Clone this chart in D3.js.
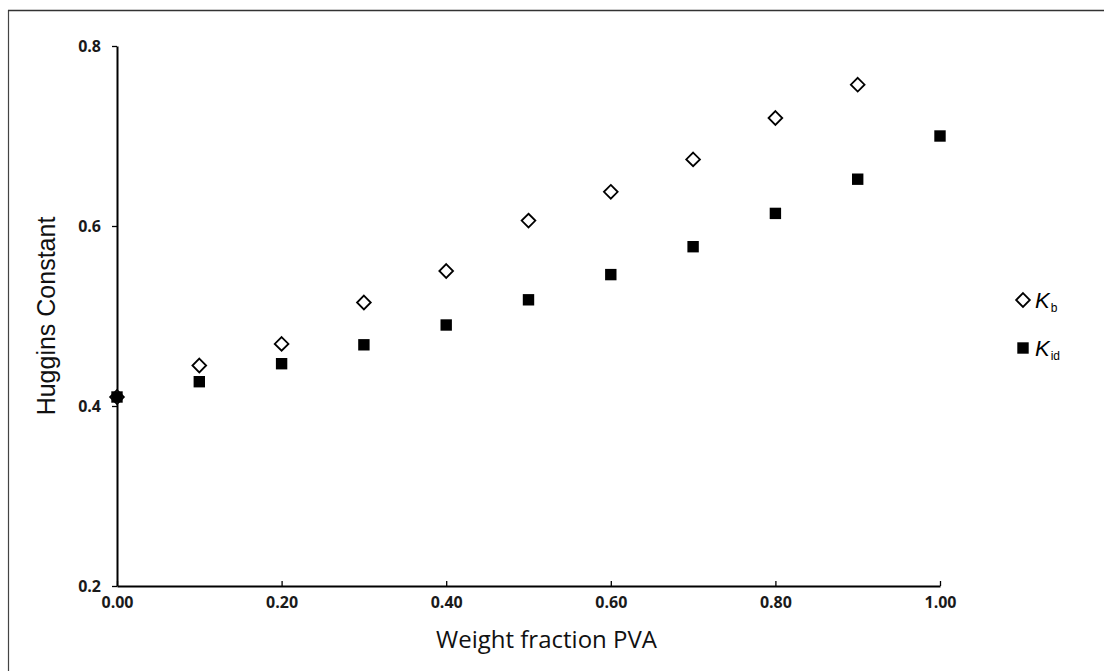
<!DOCTYPE html>
<html>
<head>
<meta charset="utf-8">
<script src="https://cdn.jsdelivr.net/npm/d3@7"></script>
<style>
  body { margin: 0; background: #fff; }
  svg { display: block; }
</style>
</head>
<body>
<div class="chart"></div>
<script>
// data
const FRACTIONS_KB = [0.0, 0.1, 0.2, 0.3, 0.4, 0.5, 0.6, 0.7, 0.8, 0.9];
const KB_VALUES = [0.410, 0.445, 0.469, 0.515, 0.550, 0.606, 0.638, 0.674, 0.720, 0.757];
const FRACTIONS_KID = [0.0, 0.1, 0.2, 0.3, 0.4, 0.5, 0.6, 0.7, 0.8, 0.9, 1.0];
const KID_VALUES = [0.410, 0.427, 0.447, 0.468, 0.490, 0.518, 0.546, 0.577, 0.614, 0.652, 0.700];
const X_TICKS = [0, 0.2, 0.4, 0.6, 0.8, 1.0];
const Y_TICKS = [0.2, 0.4, 0.6, 0.8];

const WIDTH = 1104;
const HEIGHT = 671;
const margin = { left: 117, right: 164, top: 46, bottom: 85 };

const svg = d3.select(".chart")
  .append("svg")
  .attr("width", WIDTH)
  .attr("height", HEIGHT);

// frame of the scanned figure (left and top edges)
svg.append("line").attr("x1", 8.5).attr("x2", 8.5).attr("y1", 10).attr("y2", HEIGHT)
  .attr("stroke", "#444").attr("stroke-width", 1.2);
svg.append("line").attr("x1", 8).attr("x2", WIDTH).attr("y1", 10.5).attr("y2", 10.5)
  .attr("stroke", "#333").attr("stroke-width", 1.5);

const x = d3.scaleLinear().domain([0, 1]).range([margin.left, WIDTH - margin.right]);
const y = d3.scaleLinear().domain([0.2, 0.8]).range([HEIGHT - margin.bottom, margin.top]);

const xAxis = svg.append("g")
  .attr("transform", `translate(0, ${y(0.2)})`)
  .call(d3.axisBottom(x).tickValues(X_TICKS).tickFormat(d3.format(".2f"))
    .tickSizeInner(-5).tickSizeOuter(0).tickPadding(11));
const yAxis = svg.append("g")
  .attr("transform", `translate(${x(0)}, 0)`)
  .call(d3.axisLeft(y).tickValues(Y_TICKS).tickFormat(d3.format(".1f"))
    .tickSizeInner(5).tickSizeOuter(0).tickPadding(11));

[xAxis, yAxis].forEach(g => {
  g.attr("font-size", 16).attr("font-family", "Open Sans, sans-serif").attr("font-weight", 700);
  g.select(".domain").attr("stroke", "#000").attr("stroke-width", 2);
  g.selectAll(".tick line").attr("stroke", "#000").attr("stroke-width", 1.3);
  g.selectAll(".tick text").attr("fill", "#1a1a1a");
});

// axis titles
svg.append("text")
  .attr("transform", `translate(55, ${(y(0.2) + y(0.8)) / 2}) rotate(-90)`)
  .attr("text-anchor", "middle")
  .attr("font-family", "Liberation Sans, Arial, sans-serif")
  .attr("font-size", 25)
  .attr("fill", "#111")
  .text("Huggins Constant");

svg.append("text")
  .attr("x", (x(0) + x(1)) / 2 + 18)
  .attr("y", 648)
  .attr("text-anchor", "middle")
  .attr("font-family", "Open Sans, sans-serif")
  .attr("font-size", 24)
  .attr("fill", "#111")
  .text("Weight fraction PVA");

const diamond = d3.symbol().type(d3.symbolDiamond2).size(120);
const square = d3.symbol().type(d3.symbolSquare).size(130);

// K_b : open diamonds
svg.append("g").selectAll("path")
  .data(FRACTIONS_KB.map((f, i) => [f, KB_VALUES[i]]))
  .join("path")
  .attr("d", diamond)
  .attr("transform", d => `translate(${x(d[0])}, ${y(d[1])})`)
  .attr("fill", "#fff")
  .attr("stroke", "#000")
  .attr("stroke-width", 1.8);

// K_id : filled squares
svg.append("g").selectAll("path")
  .data(FRACTIONS_KID.map((f, i) => [f, KID_VALUES[i]]))
  .join("path")
  .attr("d", square)
  .attr("transform", d => `translate(${x(d[0])}, ${y(d[1])})`)
  .attr("fill", "#000");

// legend
const legend = svg.append("g").attr("transform", "translate(1023, 300)");
legend.append("path").attr("d", diamond)
  .attr("fill", "#fff").attr("stroke", "#000").attr("stroke-width", 1.8);
legend.append("path").attr("d", square).attr("transform", "translate(0, 48)").attr("fill", "#000");

const legendText = [["K", "b", 0], ["K", "id", 48]];
legend.selectAll("text.lab")
  .data(legendText)
  .join("text")
  .attr("class", "lab")
  .attr("x", 12)
  .attr("y", d => d[2] + 8)
  .attr("font-family", "Liberation Sans, Arial, sans-serif")
  .attr("fill", "#000")
  .each(function(d) {
    const t = d3.select(this);
    t.append("tspan").attr("font-style", "italic").attr("font-size", 22).text(d[0]);
    t.append("tspan").attr("font-size", 12).attr("dy", 4).attr("dx", 1).text(d[1]);
  });
</script>
</body>
</html>
